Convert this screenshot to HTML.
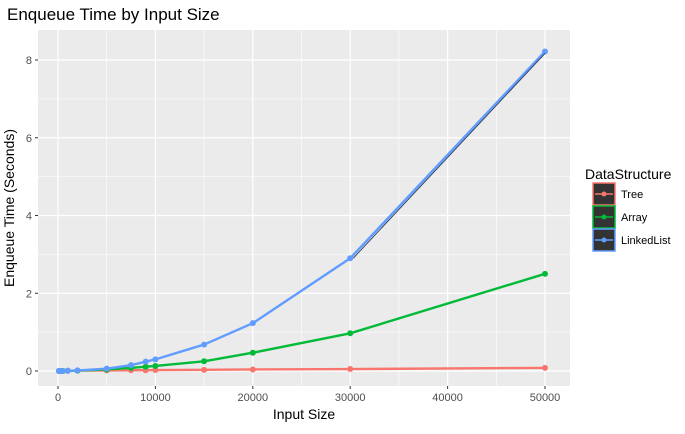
<!DOCTYPE html>
<html><head><meta charset="utf-8"><style>
body{margin:0;background:#fff;font-family:"Liberation Sans",sans-serif}
</style></head><body>
<svg width="685" height="429" xmlns="http://www.w3.org/2000/svg" font-family="Liberation Sans, sans-serif">
<text x="7" y="20" font-size="17" fill="#000">Enqueue Time by Input Size</text>
<rect x="38" y="30" width="532" height="356" fill="#ebebeb"/>
<g id="grid"></g><g id="axes"></g><g id="series"></g>
<text x="304" y="419" font-size="14" text-anchor="middle">Input Size</text>
<text transform="translate(14,208) rotate(-90)" font-size="14" text-anchor="middle">Enqueue Time (Seconds)</text>
<g>
<text x="585" y="179" font-size="14">DataStructure</text>
<g id="legend"></g>
</g>
</svg>
<script>
const sizes=[100,250,500,1000,2000,5000,7500,9000,10000,15000,20000,30000,50000];
const treeVals=[0,0,0,0.005,0.01,0.015,0.02,0.02,0.025,0.03,0.04,0.05,0.08];
const arrayVals=[0,0,0,0.005,0.01,0.04,0.08,0.11,0.13,0.25,0.47,0.97,2.5];
const listVals=[0,0,0,0.005,0.015,0.06,0.15,0.24,0.3,0.68,1.23,2.9,8.22];
const seriesNames=["Tree","Array","LinkedList"];
const xTicks=[0,10000,20000,30000,40000,50000];
const yTicks=[0,2,4,6,8];
const colors=["#f8766d","#00ba38","#619cff"];
const X=v=>58+v*(487/50000), Y=v=>371-v*38.875;
const NS="http://www.w3.org/2000/svg";
function mk(tag,attrs,parent){const e=document.createElementNS(NS,tag);for(const k in attrs)e.setAttribute(k,attrs[k]);document.getElementById(parent).appendChild(e);return e;}
for(let v=5000;v<=55000;v+=10000){const l=mk('line',{x1:X(v),x2:X(v),y1:30,y2:386,stroke:'#fff','stroke-width':0.6},'grid');}
for(let v=1;v<=9;v+=2){if(Y(v)<30)continue;const l=mk('line',{x1:38,x2:570,y1:Y(v),y2:Y(v),stroke:'#fff','stroke-width':0.6},'grid');}
xTicks.forEach(t=>{const l=mk('line',{x1:X(t),x2:X(t),y1:30,y2:386,stroke:'#fff','stroke-width':1.2},'grid');
mk('line',{x1:X(t),x2:X(t),y1:386,y2:389,stroke:'#333'},'axes');
const tx=mk('text',{x:X(t),y:401,'font-size':11,'text-anchor':'middle',fill:'#4d4d4d'},'axes');tx.textContent=t;});
yTicks.forEach(t=>{const l=mk('line',{x1:38,x2:570,y1:Y(t),y2:Y(t),stroke:'#fff','stroke-width':1.2},'grid');
mk('line',{x1:35,x2:38,y1:Y(t),y2:Y(t),stroke:'#333'},'axes');
const tx=mk('text',{x:32,y:Y(t)+4,'font-size':11,'text-anchor':'end',fill:'#4d4d4d'},'axes');tx.textContent=t;});
[treeVals,arrayVals,listVals].forEach((vals,i)=>{
const p=mk('polyline',{points:sizes.map((s,j)=>X(s)+','+Y(vals[j])).join(' '),fill:'none',stroke:colors[i],'stroke-width':2.4,'stroke-linejoin':'round'},'series');

sizes.forEach((s,j)=>{const c=mk('circle',{cx:X(s),cy:Y(vals[j]),r:3,fill:colors[i]},'series');});
if(i===2){const d=mk('line',{x1:X(sizes[11])+3,y1:Y(vals[11]),x2:X(sizes[12]),y2:Y(vals[12])+2,stroke:'#2b3a55','stroke-width':0.9},'series');}
const ly=194+i*23;
const r=mk('rect',{x:593,y:ly-11,width:22,height:22,fill:'#333',stroke:colors[i],'stroke-width':1.5},'legend');
mk('line',{x1:595,x2:613,y1:ly,y2:ly,stroke:colors[i],'stroke-width':1.5},'legend');
mk('circle',{cx:604,cy:ly,r:2.5,fill:colors[i]},'legend');
const t=mk('text',{x:621,y:ly+4,'font-size':11},'legend');t.textContent=seriesNames[i];
});
</script>
</body></html>
